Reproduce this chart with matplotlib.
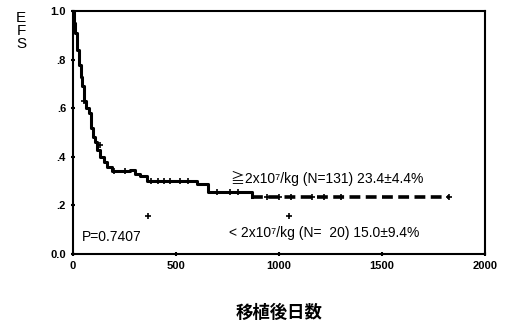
import matplotlib.pyplot as plt

plt.rcParams['font.family'] = ['Liberation Sans', 'Noto Sans CJK JP', 'DejaVu Sans']

# EFS curve, >= 2x10^7/kg group (step points)
days_hi = [0, 5, 10, 20, 30, 39, 45, 53, 65, 78, 87, 95, 105, 116, 131, 150, 165, 189, 277,
           300, 325, 359, 520, 583, 602, 655, 850, 870, 1825]
efs_hi = [1.0, 0.95, 0.91, 0.84, 0.78, 0.73, 0.69, 0.63, 0.60, 0.58, 0.52, 0.48, 0.46, 0.43,
          0.40, 0.38, 0.36, 0.34, 0.345, 0.33, 0.32, 0.30, 0.30, 0.30, 0.29, 0.255, 0.255, 0.234, 0.234]
cens_hi_days = [55, 131, 200, 250, 380, 410, 440, 470, 520, 560, 700, 760, 800, 940, 1000, 1060,
                1160, 1220, 1300, 1825]
cens_hi_efs = [0.63, 0.45, 0.34, 0.34, 0.30, 0.30, 0.30, 0.30, 0.30, 0.30, 0.255, 0.255, 0.255,
               0.234, 0.234, 0.234, 0.234, 0.234, 0.234, 0.234]

# < 2x10^7/kg group, only censor marks visible
cens_lo_days = [364, 1050]
cens_lo_efs = [0.155, 0.155]

xticks = [0, 500, 1000, 1500, 2000]
yticks = [0.0, 0.2, 0.4, 0.6, 0.8, 1.0]
ytick_labels = ['0.0', '.2', '.4', '.6', '.8', '1.0']

fig = plt.figure(figsize=(5.07, 3.26), dpi=100)
ax = fig.add_axes([0.144, 0.221, 0.813, 0.745])

# solid early part, dashed tail like the scan
split = days_hi.index(870)
ax.step(days_hi[:split + 1], efs_hi[:split + 1], where='post', color='black', lw=2.2)
ax.step(days_hi[split:], efs_hi[split:], where='post', color='black', lw=2.6,
        linestyle=(0, (3, 1.5)))
ax.plot(cens_hi_days, cens_hi_efs, '+', color='black', ms=5, mew=1.2)
ax.plot(cens_lo_days, cens_lo_efs, '+', color='black', ms=5, mew=1.2)

ax.text(45, 0.07, 'P=0.7407', fontsize=10, va='center')
ax.text(765, 0.31, '\u22672x10\u2077/kg (N=131) 23.4\u00b14.4%', fontsize=10, va='center')
ax.text(755, 0.087, '< 2x10\u2077/kg (N=  20) 15.0\u00b19.4%', fontsize=10, va='center')

ax.set_xlim(0, 2000)
ax.set_ylim(0, 1.0)
ax.set_xticks(xticks)
ax.set_xticklabels([str(t) for t in xticks], fontsize=8, fontweight='bold')
ax.set_yticks(yticks)
ax.set_yticklabels(ytick_labels, fontsize=8, fontweight='bold')
ax.tick_params(direction='inout', length=3, width=1.5)
for s in ax.spines.values():
    s.set_linewidth(1.5)

ax.set_xlabel('移植後日数', fontsize=12.5, fontweight='bold', family=['Noto Sans CJK JP'],
              labelpad=24)
fig.text(0.042, 0.905, 'E\nF\nS', fontsize=11, va='center', ha='center', linespacing=0.95)

fig.savefig('out.png', dpi=100)
